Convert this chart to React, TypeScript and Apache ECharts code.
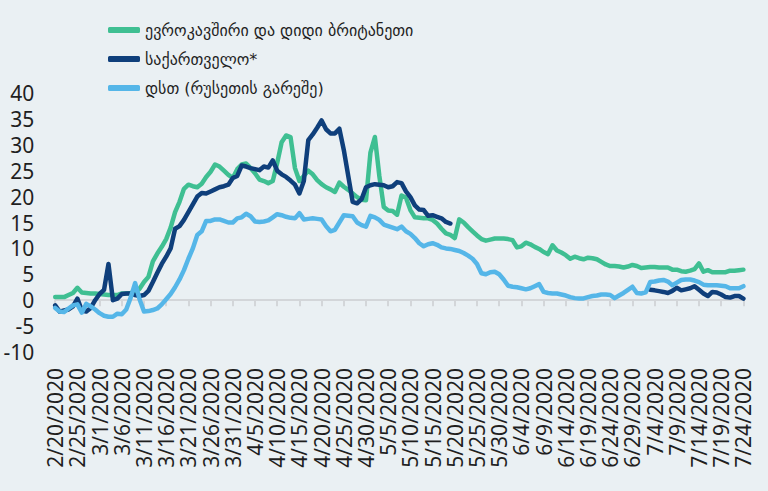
import React, { useEffect, useRef } from "react";
import * as echarts from "echarts";

const seriesNames = [
  "ევროკავშირი და დიდი ბრიტანეთი",
  "საქართველო*",
  "დსთ (რუსეთის გარეშე)",
];

const startYear = 2020;
const startMonth = 2;
const startDay = 20;
const dayCount = 156;

function buildDates(): string[] {
  const out: string[] = [];
  for (let i = 0; i < dayCount; i++) {
    const d = new Date(Date.UTC(startYear, startMonth - 1, startDay + i));
    out.push(`${d.getUTCMonth() + 1}/${d.getUTCDate()}/${d.getUTCFullYear()}`);
  }
  return out;
}
const categories = buildDates();

const euUk = [
  0.6, 0.6, 0.6, 1.0, 1.4, 2.4, 1.5, 1.4, 1.3, 1.3,
  1.2, 1.1, 1.0, 1.0, 1.0, 1.3, 1.3, 1.4, 1.6, 2.2,
  3.5, 4.5, 7.5, 9.0, 10.3, 11.8, 14.0, 17.0, 19.0, 21.5,
  22.3, 22.0, 21.8, 22.5, 23.8, 24.8, 26.2, 25.8, 25.0, 24.2,
  23.6, 25.3, 26.2, 26.4, 25.5, 24.5, 23.3, 23.0, 22.6, 23.0,
  26.5, 30.5, 31.8, 31.5, 25.5, 23.0, 24.0, 25.0, 24.3, 23.2,
  22.4, 21.8, 21.4, 20.9, 22.7, 21.9, 21.3, 20.6, 19.9, 19.4,
  19.3, 28.5, 31.5, 24.0, 18.0, 17.3, 17.2, 16.5, 20.2, 19.8,
  17.4, 16.0, 15.9, 15.8, 15.8, 15.5, 14.8, 13.8, 12.9, 12.6,
  12.0, 15.6, 15.0, 14.1, 13.3, 12.5, 11.8, 11.5, 11.7, 11.9,
  11.9, 11.9, 11.8, 11.6, 10.2, 10.4, 11.1, 10.8, 10.3, 9.9,
  9.3, 8.9, 10.6, 9.6, 9.2, 8.7, 8.0, 8.4, 8.1, 7.9,
  8.2, 8.1, 7.9, 7.4, 6.9, 6.6, 6.6, 6.5, 6.3, 6.5,
  6.8, 6.6, 6.2, 6.3, 6.4, 6.4, 6.3, 6.3, 6.3, 5.9,
  5.9, 5.6, 5.5, 5.7, 6.0, 7.1, 5.5, 5.8, 5.4, 5.4,
  5.4, 5.4, 5.7, 5.7, 5.8, 5.9,
];

const georgia: (number | null)[] = [
  -1.0, -2.2, -2.0, -1.8, -1.2, 0.3, -2.0, -2.2, -1.5, 0.0,
  1.2, 2.0, 7.0, 0.0, 0.3, 1.2, 1.3, 1.3, 1.0, 0.8,
  1.0, 1.8, 3.5, 5.3, 7.0, 8.4, 10.0, 13.8, 14.3, 15.5,
  17.0, 18.5, 20.0, 20.7, 20.6, 21.0, 21.4, 21.8, 22.0, 22.3,
  23.6, 24.0, 26.0, 25.8, 25.5, 25.3, 25.1, 25.8, 25.6, 27.0,
  25.0, 24.3, 23.8, 23.1, 22.3, 20.6, 23.0, 30.9, 32.0, 33.3,
  34.7, 33.0, 32.2, 32.2, 33.1, 29.0, 24.0, 19.0, 18.7, 19.5,
  21.8, 22.2, 22.4, 22.3, 22.2, 21.8, 22.0, 22.8, 22.6, 21.0,
  19.9, 18.3, 17.5, 17.4, 16.3, 16.4, 16.1, 15.8, 15.1, 14.8,
  null, null, null, null, null, null, null, null, null, null,
  null, null, null, null, null, null, null, null, null, null,
  null, null, null, null, null, null, null, null, null, null,
  null, null, null, null, null, null, null, null, null, null,
  null, null, null, null, 2.0, 1.9, 1.75, 1.6, 1.4, 1.8,
  2.4, 1.9, 2.1, 2.3, 2.7, 2.0, 1.3, 0.8, 1.6, 1.5,
  1.1, 0.6, 0.5, 0.8, 0.8, 0.3,
];

const cisExRussia = [
  -1.5, -2.2, -2.3, -1.6, -1.0, -0.8, -2.4, -0.7, -1.2, -1.8,
  -2.5, -3.0, -3.2, -3.2, -2.6, -2.7, -1.8, 0.5, 3.3, 0.2,
  -2.2, -2.1, -1.9, -1.6, -0.8, 0.2, 1.2, 2.5, 4.0, 5.8,
  8.0, 10.0, 12.6, 13.3, 15.3, 15.3, 15.6, 15.6, 15.3, 15.0,
  15.0, 15.8, 16.0, 16.7, 16.2, 15.2, 15.1, 15.2, 15.4, 16.0,
  16.6, 16.4, 16.1, 15.9, 15.8, 16.8, 15.6, 15.7, 15.8, 15.7,
  15.6, 14.3, 13.3, 13.6, 15.0, 16.4, 16.3, 16.2, 15.0, 14.5,
  14.2, 16.3, 16.0, 15.5, 14.6, 14.3, 14.0, 13.7, 14.2, 13.3,
  12.8, 12.0, 11.0, 10.4, 10.8, 11.0, 10.7, 10.2, 10.0, 9.9,
  9.7, 9.5, 9.1, 8.6, 8.0, 7.0, 5.2, 5.0, 5.4, 5.5,
  5.0, 4.0, 2.8, 2.6, 2.5, 2.3, 2.1, 2.3, 2.7, 3.1,
  1.6, 1.4, 1.3, 1.3, 1.1, 0.9, 0.6, 0.4, 0.35, 0.35,
  0.6, 0.8, 0.9, 1.1, 1.1, 1.0, 0.4, 0.9, 1.4, 2.0,
  2.6, 1.4, 1.3, 1.5, 3.5, 3.6, 3.8, 3.9, 3.6, 2.9,
  3.4, 3.9, 4.0, 4.0, 3.8, 3.5, 3.0, 2.9, 2.9, 2.9,
  2.8, 2.7, 2.3, 2.3, 2.3, 2.7,
];

const colors = ["#3fbf92", "#0f3f7b", "#55b6e8"];
const textColor = "#1f1f1f";
const axisGray = "#d3d6d9";

export default function App() {
  const ref = useRef<HTMLDivElement>(null);

  useEffect(() => {
    if (!ref.current) return;
    const chart = echarts.init(ref.current, undefined, { renderer: "svg" });
    const seriesData = [euUk, georgia, cisExRussia];
    chart.setOption({
      animation: false,
      backgroundColor: "#eaf0f3",
      textStyle: { fontFamily: "'Noto Sans', 'DejaVu Sans', sans-serif" },
      legend: {
        orient: "vertical",
        left: 103,
        top: 16,
        itemWidth: 32,
        itemHeight: 6,
        itemGap: 11,
        icon: "roundRect",
        textStyle: {
          fontSize: 16,
          lineHeight: 18,
          color: textColor,
          fontFamily: "'DejaVu Sans', sans-serif",
        },
        data: seriesNames,
      },
      grid: { left: 55.2, right: 24.6, top: 93, bottom: 139, outerBoundsMode: "none", containLabel: false },
      xAxis: {
        type: "category",
        data: categories,
        boundaryGap: false,
        axisLine: { onZero: true, lineStyle: { color: axisGray, width: 2 } },
        axisTick: { show: true, interval: 4, length: 6, lineStyle: { color: axisGray, width: 2 } },
        axisLabel: { interval: 4, rotate: 90, margin: 16, fontSize: 21, color: textColor },
        splitLine: { show: false },
      },
      yAxis: {
        type: "value",
        min: -10,
        max: 40,
        interval: 5,
        axisLine: { show: false },
        axisTick: { show: false },
        splitLine: { show: false },
        axisLabel: { fontSize: 21, color: textColor, margin: 21 },
      },
      series: seriesNames.map((name, i) => ({
        name,
        type: "line",
        data: seriesData[i],
        symbol: "none",
        connectNulls: false,
        color: colors[i],
        lineStyle: { width: 4.5, color: colors[i], cap: "round", join: "round" },
      })),
    });
    return () => chart.dispose();
  }, []);

  return (
    <div
      ref={ref}
      style={{ position: "fixed", left: 0, top: 0, width: 768, height: 491 }}
    />
  );
}
